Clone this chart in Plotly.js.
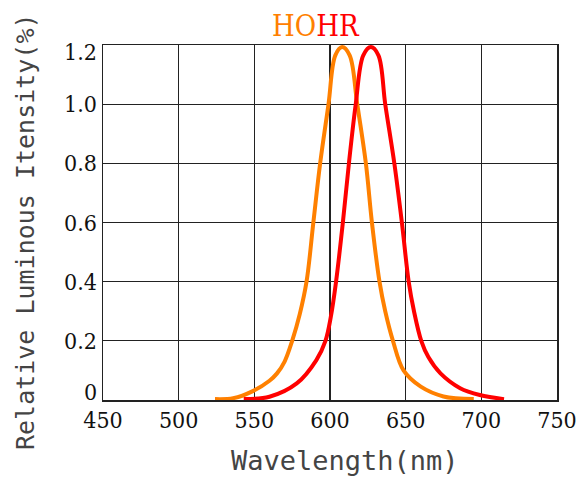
<!DOCTYPE html>
<html><head><meta charset="utf-8">
<script src="https://cdn.plot.ly/plotly-3.0.1.min.js"></script>
<style>html,body{margin:0;padding:0;background:#fff}#c{width:581px;height:479px}</style>
</head><body><div id="c"></div>
<script>
const hoWavelength = [524, 536, 549, 560, 565, 570, 575, 580, 584.5, 589, 593.5, 599, 603.5, 608, 613, 618, 623.7, 627.7, 632.7, 636.5, 641.6, 648.6, 660, 675, 695];
const hoIntensity  = [0.003, 0.006, 0.03, 0.065, 0.09, 0.13, 0.2, 0.29, 0.4, 0.6, 0.8, 1.0, 1.165, 1.193, 1.165, 1.0, 0.8, 0.6, 0.4, 0.3, 0.2, 0.1, 0.045, 0.012, 0.003];
const hrWavelength = [543, 560, 578, 591, 597, 600.5, 604, 608.5, 612.5, 617, 622, 627, 632, 636.5, 642.5, 647.5, 652, 655.5, 660.3, 665, 673, 686, 699, 715];
const hrIntensity  = [0.003, 0.011, 0.056, 0.135, 0.2, 0.28, 0.4, 0.6, 0.8, 1.0, 1.165, 1.193, 1.165, 1.0, 0.8, 0.6, 0.4, 0.3, 0.2, 0.145, 0.09, 0.04, 0.017, 0.003];
const xTicks = [450, 500, 550, 600, 650, 700, 750];
const yTicks = [0, 0.2, 0.4, 0.6, 0.8, 1.0, 1.2];
const yTickText = ['0', '0.2', '0.4', '0.6', '0.8', '1.0', '1.2'];
const xTitle = 'Wavelength(nm)';
const yTitle = 'Relative Luminous Itensity(%)';

const traces = [
  {x: hoWavelength, y: hoIntensity, mode: 'lines', line: {color: '#FF8000', width: 4, shape: 'spline', smoothing: 1}, name: 'HO'},
  {x: hrWavelength, y: hrIntensity, mode: 'lines', line: {color: '#FF0000', width: 4, shape: 'spline', smoothing: 1}, name: 'HR'}
];
const thin = 'DejaVu Sans Mono';
const serif = 'DejaVu Serif Condensed, DejaVu Serif';
const yMin = yTicks[0], yMax = yTicks[yTicks.length - 1];
// y tick labels kept inside the plot's height: end labels nudged just inside the frame
const yLabelAnns = yTicks.map((v, i) => ({
  xref: 'paper', yref: 'y', x: 0, y: v, xanchor: 'right', xshift: -4,
  yanchor: 'middle', yshift: v === yMin ? 8 : (v === yMax ? -7 : 0),
  showarrow: false, text: yTickText[i], font: {family: serif, size: 23, color: '#111'}
}));
const layout = {
  width: 581, height: 479,
  margin: {l: 103, r: 24, t: 45, b: 79},
  paper_bgcolor: '#fff', plot_bgcolor: '#fff',
  showlegend: false,
  xaxis: {range: [450, 750], tickvals: xTicks, ticktext: xTicks.map(String), showgrid: true, gridcolor: '#222', gridwidth: 1.2,
          zeroline: false, showline: true, linecolor: '#222', linewidth: 1.5, mirror: true, ticks: '',
          ticklabelstandoff: -1,
          tickfont: {family: serif, size: 23, color: '#111'}},
  yaxis: {range: [yMin, yMax], tickvals: yTicks, showticklabels: false, showgrid: true, gridcolor: '#222', gridwidth: 1.2,
          zeroline: false, showline: true, linecolor: '#222', linewidth: 1.5, mirror: true, ticks: ''},
  annotations: [
    {xref: 'paper', yref: 'paper', x: (316 - 103) / 454, y: 1, yanchor: 'bottom', xanchor: 'center', yshift: 0, showarrow: false,
     text: '<span style="color:#FF8000">HO</span><span style="color:#FF0000">HR</span>',
     font: {family: serif, size: 29}},
    {xref: 'paper', yref: 'paper', x: (345 - 103) / 454, y: -(460 - 400) / 355, xanchor: 'center', yanchor: 'middle', showarrow: false,
     text: xTitle, font: {family: thin, size: 27, color: '#444'}},
    {xref: 'paper', yref: 'paper', x: -(103 - 25) / 454, y: (400 - 232) / 355, xanchor: 'center', yanchor: 'middle', showarrow: false,
     textangle: -90, text: yTitle, font: {family: thin, size: 25, color: '#444'}}
  ].concat(yLabelAnns)
};
Plotly.newPlot('c', traces, layout, {displayModeBar: false, staticPlot: true});
</script></body></html>
